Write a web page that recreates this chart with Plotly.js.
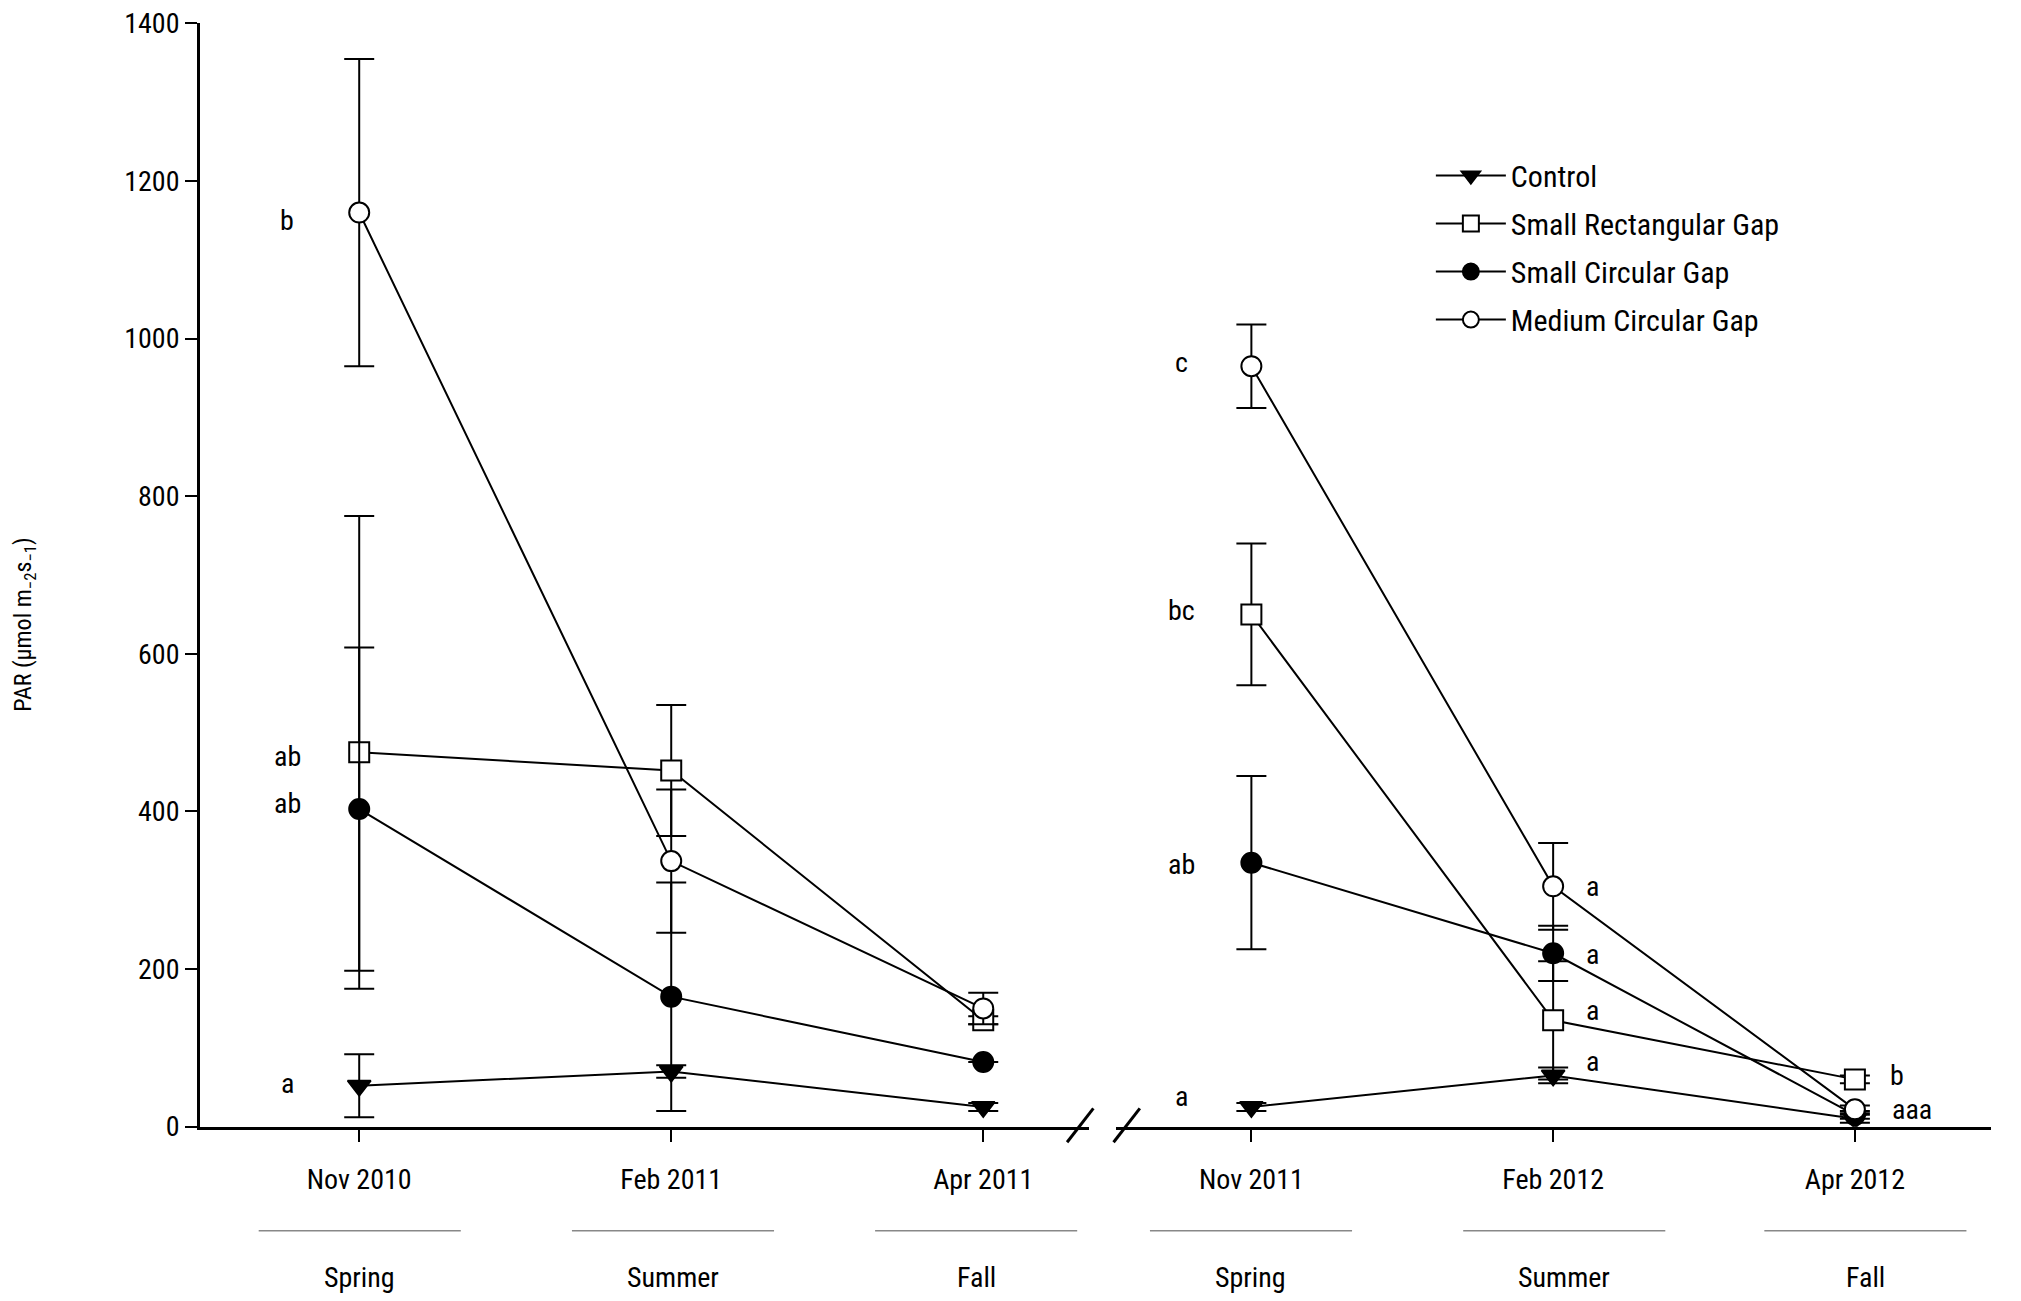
<!DOCTYPE html>
<html>
<head>
<meta charset="utf-8">
<script src="https://cdn.plot.ly/plotly-3.0.1.min.js"></script>
<style>body{margin:0;background:#fff}</style>
</head>
<body>
<div id="chart" style="width:2021px;height:1301px"></div>
<script>
// x positions: 0,1,2 = first year; 0,1,2 on second axis = second year
var dates1 = ['Nov 2010', 'Feb 2011', 'Apr 2011'];
var dates2 = ['Nov 2011', 'Feb 2012', 'Apr 2012'];
var seasons = ['Spring', 'Summer', 'Fall'];

var control1 = [52, 70, 25],   controlErr1 = [40, 8, 5];
var control2 = [25, 65, 10],   controlErr2 = [5, 10, 5];
var rect1 = [475, 452, 135],   rectErr1 = [300, 83, 5];
var rect2 = [650, 135, 60],    rectErr2 = [90, 75, 5];
var circ1 = [403, 165, 82],    circErr1 = [205, 145, 0];
var circ2 = [335, 220, 15],    circErr2 = [110, 35, 5];
var med1 = [1160, 337, 150],   medErr1 = [195, 91, 20];
var med2 = [965, 305, 22],     medErr2 = [53, 55, 5];

var font = 'Liberation Sans Narrow, Roboto Condensed, Liberation Sans, sans-serif';
var xs = [0, 1, 2];

function series(name, y1, e1, y2, e2, symbol, color) {
  var common = {
    mode: 'lines+markers',
    line: {color: '#000', width: 2},
    marker: {symbol: symbol, size: 20, color: color, line: {color: '#000', width: 2}}
  };
  var a = Object.assign({}, common, {
    x: xs, y: y1, name: name, xaxis: 'x', yaxis: 'y', legendgroup: name,
    error_y: {type: 'data', array: e1, color: '#000', thickness: 2, width: 15}
  });
  var b = Object.assign({}, common, {
    x: xs, y: y2, name: name, xaxis: 'x2', yaxis: 'y', legendgroup: name, showlegend: false,
    error_y: {type: 'data', array: e2, color: '#000', thickness: 2, width: 15}
  });
  return [a, b];
}

var data = [].concat(
  series('Control', control1, controlErr1, control2, controlErr2, 'triangle-down', '#000'),
  series('Small Rectangular Gap', rect1, rectErr1, rect2, rectErr2, 'square', '#fff'),
  series('Small Circular Gap', circ1, circErr1, circ2, circErr2, 'circle', '#000'),
  series('Medium Circular Gap', med1, medErr1, med2, medErr2, 'circle', '#fff')
);

var letters = [
  {x: -0.23, y: 1150, t: 'b', ax: 'x'},
  {x: -0.23, y: 470, t: 'ab', ax: 'x'},
  {x: -0.23, y: 410, t: 'ab', ax: 'x'},
  {x: -0.23, y: 55, t: 'a', ax: 'x'},
  {x: -0.23, y: 970, t: 'c', ax: 'x2'},
  {x: -0.23, y: 655, t: 'bc', ax: 'x2'},
  {x: -0.23, y: 333, t: 'ab', ax: 'x2'},
  {x: -0.23, y: 38, t: 'a', ax: 'x2'},
  {x: 1.13, y: 305, t: 'a', ax: 'x2'},
  {x: 1.13, y: 218, t: 'a', ax: 'x2'},
  {x: 1.13, y: 147, t: 'a', ax: 'x2'},
  {x: 1.13, y: 83, t: 'a', ax: 'x2'},
  {x: 2.14, y: 65, t: 'b', ax: 'x2'},
  {x: 2.19, y: 22, t: 'aaa', ax: 'x2'}
];

var annotations = letters.map(function (l) {
  return {x: l.x, y: l.y, xref: l.ax, yref: 'y', text: l.t, xanchor: 'center',
    showarrow: false, font: {family: font, size: 28, color: '#000'}};
});

// season labels and lines below the axes
var seasonX = [0.178, 0.333, 0.483, 0.619, 0.774, 0.923];
var shapes = [];
seasonX.forEach(function (px, i) {
  annotations.push({x: px, y: 0.018, xref: 'paper', yref: 'paper', text: seasons[i % 3],
    xanchor: 'center', yanchor: 'middle',
    showarrow: false, font: {family: font, size: 28, color: '#000'}});
  shapes.push({type: 'line', xref: 'paper', yref: 'paper', x0: px - 0.05, x1: px + 0.05,
    y0: 0.054, y1: 0.054, line: {color: '#888', width: 1.5}});
});
// y-axis title
annotations.push({x: 0.012, y: 0.52, xref: 'paper', yref: 'paper', textangle: -90,
  text: 'PAR (µmol m<sub>−2</sub>s<sub>−1</sub>)', showarrow: false,
  xanchor: 'center', yanchor: 'middle', font: {family: font, size: 24, color: '#000'}});
// axis break marks
shapes.push({type: 'line', xref: 'paper', yref: 'paper', x0: 0.528, x1: 0.541, y0: 0.122, y1: 0.148, line: {color: '#000', width: 3}});
shapes.push({type: 'line', xref: 'paper', yref: 'paper', x0: 0.551, x1: 0.564, y0: 0.122, y1: 0.148, line: {color: '#000', width: 3}});

var axisCommon = {
  showgrid: false, zeroline: false, showline: true, linecolor: '#000', linewidth: 3,
  ticks: 'outside', ticklen: 12, tickwidth: 2, tickcolor: '#000',
  tickfont: {family: font, size: 28, color: '#000'}
};

var layout = {
  width: 2021, height: 1301,
  margin: {l: 0, r: 0, t: 0, b: 0},
  paper_bgcolor: '#fff', plot_bgcolor: '#fff',
  font: {family: font, color: '#000'},
  xaxis: Object.assign({}, axisCommon, {domain: [0.099, 0.539], range: [-0.51, 2.34],
    tickvals: xs, ticktext: dates1, anchor: 'y', ticklabelstandoff: 14}),
  xaxis2: Object.assign({}, axisCommon, {domain: [0.552, 0.985], range: [-0.45, 2.45],
    tickvals: xs, ticktext: dates2, anchor: 'y', ticklabelstandoff: 14}),
  yaxis: Object.assign({}, axisCommon, {domain: [0.134, 0.982], range: [0, 1400],
    dtick: 200, anchor: 'x'}),
  legend: {x: 0.708, y: 0.885, xanchor: 'left', yanchor: 'top', bgcolor: 'rgba(0,0,0,0)',
    font: {family: font, size: 30}, tracegroupgap: 6, itemwidth: 70},
  annotations: annotations,
  shapes: shapes
};

Plotly.newPlot('chart', data, layout, {displayModeBar: false});
</script>
</body>
</html>
